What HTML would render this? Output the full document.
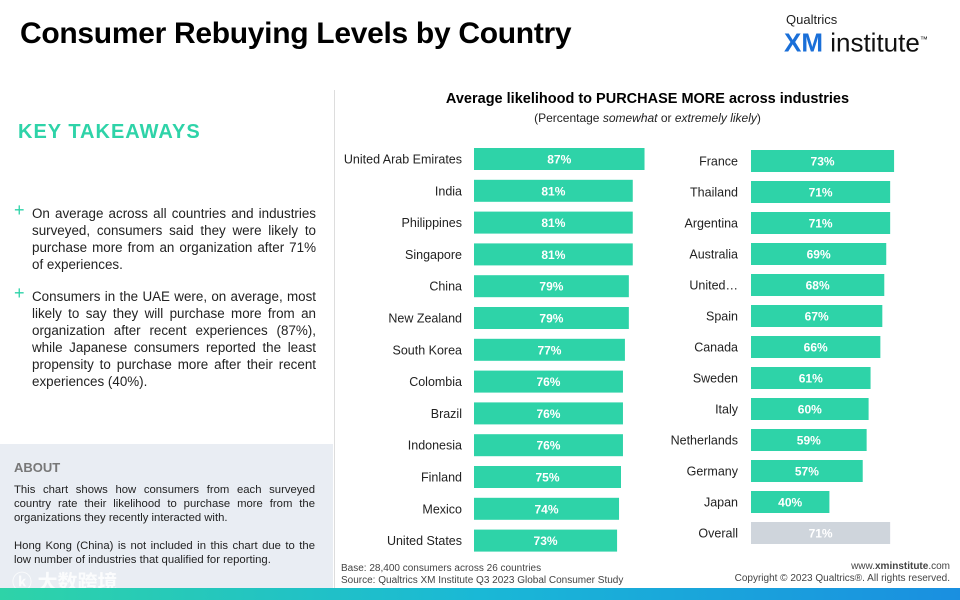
<!DOCTYPE html>
<html><head><meta charset="utf-8"><style>
body{margin:0;width:960px;height:600px;overflow:hidden;background:#fff;font-family:"Liberation Sans","Noto Sans CJK SC",sans-serif;position:relative}
.abs{position:absolute}
.take p{margin:0}
</style></head><body>
<div class="abs" style="left:20px;top:17px;font-size:30px;font-weight:bold;color:#000;letter-spacing:-0.3px">Consumer Rebuying Levels by Country</div>
<div class="abs" style="left:784px;top:12px;width:160px">
 <div style="font-size:13px;color:#222;margin-left:2px">Qualtrics</div>
 <div style="font-size:26px;color:#111;line-height:26px"><b style="color:#1a6fd8">XM</b> institute<sup style="font-size:8px">™</sup></div>
</div>
<div class="abs" style="left:334px;top:90px;width:1px;height:498px;background:#ddd"></div>
<div class="abs" style="left:18px;top:121px;font-size:20px;font-weight:bold;color:#2ed3a8;letter-spacing:1px">KEY TAKEAWAYS</div>
<div class="abs take" style="left:14px;top:205px;width:302px;font-size:13.4px;line-height:17px;color:#222;text-align:justify">
 <span style="position:absolute;left:0;top:-3px;color:#2ed3a8;font-size:18px">+</span><p style="margin-left:18px">On average across all countries and industries surveyed, consumers said they were likely to purchase more from an organization after 71% of experiences.</p></div>
<div class="abs take" style="left:14px;top:288px;width:302px;font-size:13.4px;line-height:17px;color:#222;text-align:justify">
 <span style="position:absolute;left:0;top:-3px;color:#2ed3a8;font-size:18px">+</span><p style="margin-left:18px">Consumers in the UAE were, on average, most likely to say they will purchase more from an organization after recent experiences (87%), while Japanese consumers reported the least propensity to purchase more after their recent experiences (40%).</p></div>
<div class="abs" style="left:0;top:444px;width:333px;height:144px;background:#e9edf3"></div>
<div class="abs" style="left:14px;top:460px;font-size:13px;font-weight:bold;color:#777">ABOUT</div>
<div class="abs" style="left:14px;top:483px;width:301px;font-size:11.3px;line-height:14px;color:#222;text-align:justify">This chart shows how consumers from each surveyed country rate their likelihood to purchase more from the organizations they recently interacted with.<br><br><span style="text-align:left">Hong Kong (China) is not included in this chart due to the low number of industries that qualified for reporting.</span></div>
<div class="abs" style="left:12px;top:566px;font-size:20px;color:#fff;opacity:.85;font-weight:bold">ⓚ 大数跨境</div>
<div class="abs" style="left:0;top:588px;width:960px;height:12px;background:linear-gradient(90deg,#2ed3a8,#1ab8d6,#1a8fe0)"></div>
<div class="abs" style="left:335px;top:91px;width:625px;text-align:center;font-size:14.5px;font-weight:bold;color:#000">Average likelihood to PURCHASE MORE across industries</div>
<div class="abs" style="left:335px;top:111px;width:625px;text-align:center;font-size:12px;color:#222">(Percentage <i>somewhat</i> or <i>extremely likely</i>)</div>
<div class="abs" style="left:341px;top:563px;font-size:10px;line-height:12px;color:#444">Base: 28,400 consumers across 26 countries<br>Source: Qualtrics XM Institute Q3 2023 Global Consumer Study</div>
<div class="abs" style="right:10px;top:561px;font-size:10px;line-height:12px;color:#444;text-align:right">www.<b>xminstitute</b>.com<br>Copyright © 2023 Qualtrics®. All rights reserved.</div>
<svg class="abs" id="chart" style="left:0;top:0" width="960" height="600"></svg>
<script>
const leftCountries=["United Arab Emirates","India","Philippines","Singapore","China","New Zealand","South Korea","Colombia","Brazil","Indonesia","Finland","Mexico","United States"];
const leftValues=[87,81,81,81,79,79,77,76,76,76,75,74,73];
const rightCountries=["France","Thailand","Argentina","Australia","United…","Spain","Canada","Sweden","Italy","Netherlands","Germany","Japan","Overall"];
const rightValues=[73,71,71,69,68,67,66,61,60,59,57,40,71];
const svg=document.getElementById('chart');
const NS='http://www.w3.org/2000/svg';
const scale=v=>v*1.96;
function col(cats,vals,x0,y0,pitch,labelX){
 cats.forEach((c,i)=>{
  const cy=y0+i*pitch;
  const r=document.createElementNS(NS,'rect');
  r.setAttribute('x',x0);r.setAttribute('y',cy-11);r.setAttribute('width',scale(vals[i]));r.setAttribute('height',22);
  r.setAttribute('fill',c==='Overall'?'#cfd5dc':'#2ed3a8');
  
  
  svg.appendChild(r);
  const t=document.createElementNS(NS,'text');
  t.setAttribute('x',x0+scale(vals[i])/2);t.setAttribute('y',cy+4.5);t.setAttribute('text-anchor','middle');
  t.setAttribute('font-size','12');t.setAttribute('font-weight','bold');t.setAttribute('fill','#fff');
  t.setAttribute('font-family','Liberation Sans, sans-serif');
  t.textContent=vals[i]+'%';
  
  
  svg.appendChild(t);
  const l=document.createElementNS(NS,'text');
  l.setAttribute('x',labelX);l.setAttribute('y',cy+4.5);l.setAttribute('text-anchor','end');
  l.setAttribute('font-size','12.5');l.setAttribute('fill','#222');
  l.setAttribute('font-family','Liberation Sans, sans-serif');
  l.textContent=c;
  
  
  svg.appendChild(l);
 });
}
col(leftCountries,leftValues,474,159,31.8,462);
col(rightCountries,rightValues,751,161,31,738);
</script>
</body></html>
